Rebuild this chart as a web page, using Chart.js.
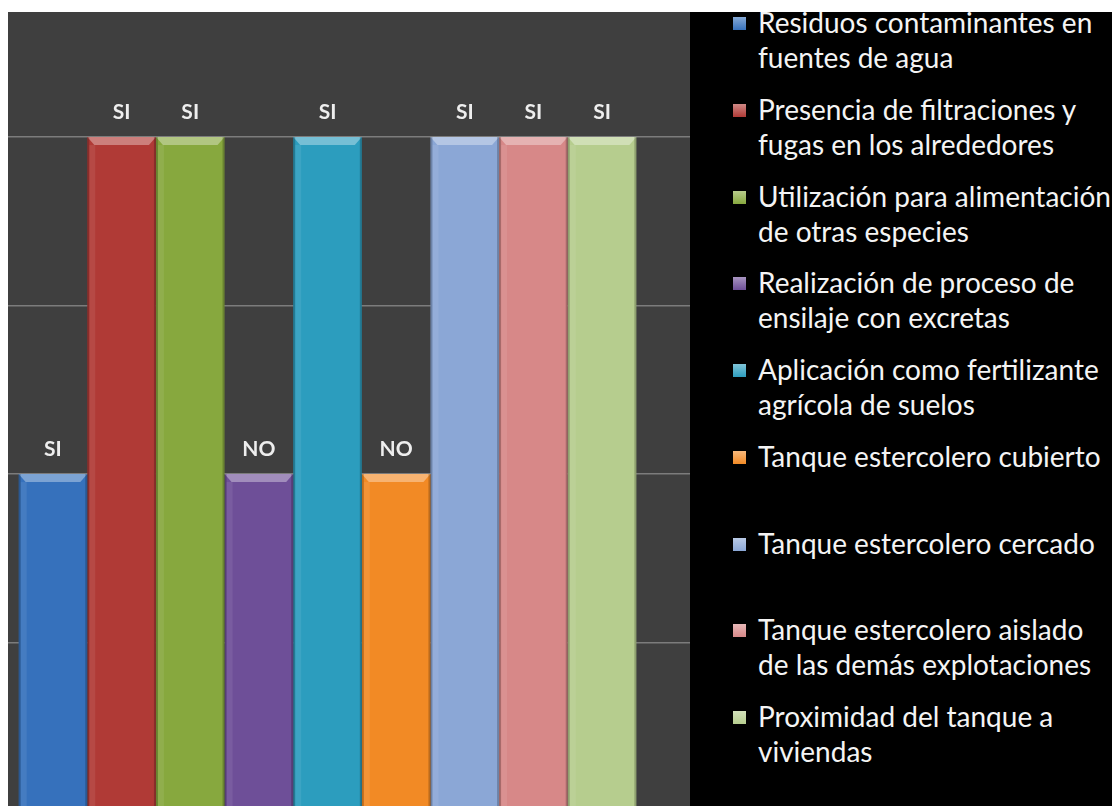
<!DOCTYPE html>
<html>
<head>
<meta charset="utf-8">
<script src="https://cdn.jsdelivr.net/npm/chart.js@4/dist/chart.umd.min.js"></script>
<style>
  html, body { margin: 0; padding: 0; background: #ffffff; width: 1112px; height: 806px; overflow: hidden; }
  #plot { position: absolute; left: 8px; top: 12px; width: 682px; height: 794px; overflow: hidden; background: #3f3f3f; }
  #wrap { position: absolute; left: -43px; top: 0; width: 725px; height: 799px; }
  #legend { position: absolute; left: 690px; top: 12px; width: 422px; height: 794px; background: #000000; overflow: hidden; }
  #legendList { position: absolute; left: 0; top: -7px; font-family: Lato, "Open Sans", sans-serif; font-size: 28px; line-height: 35px; color: #f4f4f4; }
  .item { position: relative; height: 86.75px; padding-left: 68px; white-space: nowrap; }
  .swatch { position: absolute; left: 43px; top: 12px; width: 13px; height: 13px; }
</style>
</head>
<body>
<div id="plot"><div id="wrap"><canvas id="chart"></canvas></div></div>
<div id="legend"><div id="legendList"></div></div>
<script>
  // Series names (legend) and values
  const seriesNames = [
    'Residuos contaminantes en fuentes de agua',
    'Presencia de filtraciones y fugas en los alrededores',
    'Utilización para alimentación de otras especies',
    'Realización de proceso de ensilaje con excretas',
    'Aplicación como fertilizante agrícola de suelos',
    'Tanque estercolero cubierto',
    'Tanque estercolero cercado',
    'Tanque estercolero aislado de las demás explotaciones',
    'Proximidad del tanque a viviendas'
  ];
  // legend line breaks as in the picture
  const legendLines = [
    ['Residuos contaminantes en', 'fuentes de agua'],
    ['Presencia de filtraciones y', 'fugas en los alrededores'],
    ['Utilización para alimentación', 'de otras especies'],
    ['Realización de proceso de', 'ensilaje con excretas'],
    ['Aplicación como fertilizante', 'agrícola de suelos'],
    ['Tanque estercolero cubierto'],
    ['Tanque estercolero cercado'],
    ['Tanque estercolero aislado', 'de las demás explotaciones'],
    ['Proximidad del tanque a', 'viviendas']
  ];
  const seriesValues = [1, 2, 2, 1, 2, 1, 2, 2, 2];
  const valueLabels = ['SI', 'SI', 'SI', 'NO', 'SI', 'NO', 'SI', 'SI', 'SI'];
  const seriesColors = ['#3671bc', '#b03a36', '#87a83e', '#6e4f98', '#2c9dbe', '#f28a25', '#8ba7d6', '#d78888', '#b6cd8e'];
  const gridValues = [0.5, 1, 1.5, 2];

  // Lighten a hex colour
  function lighten(hex, amt) {
    const n = parseInt(hex.slice(1), 16);
    const r = (n >> 16) & 255, g = (n >> 8) & 255, b = n & 255;
    const f = c => Math.round(c + (255 - c) * amt);
    return `rgb(${f(r)}, ${f(g)}, ${f(b)})`;
  }

  // Bevel look on top of each bar
  const bevelPlugin = {
    id: 'bevel',
    afterDatasetsDraw(chart) {
      const ctx = chart.ctx;
      chart.data.datasets.forEach((ds, i) => {
        chart.getDatasetMeta(i).data.forEach(bar => {
          const left = bar.x - bar.width / 2;
          const right = bar.x + bar.width / 2;
          const top = bar.y;
          ctx.save();
          ctx.fillStyle = lighten(ds.backgroundColor, 0.35);
          ctx.beginPath();
          ctx.moveTo(left, top);
          ctx.lineTo(right, top);
          ctx.lineTo(right - 7, top + 8);
          ctx.lineTo(left + 7, top + 8);
          ctx.closePath();
          ctx.fill();
          ctx.fillStyle = 'rgba(0,0,0,0.22)';
          ctx.fillRect(left, top, 2, bar.base - top);
          ctx.fillRect(right - 2, top, 2, bar.base - top);
          ctx.fillStyle = 'rgba(255,255,255,0.08)';
          ctx.fillRect(left + 2, top + 8, 6, bar.base - top);
          ctx.restore();
        });
      });
    }
  };

  // SI / NO labels above bars
  const labelPlugin = {
    id: 'valueLabels',
    afterDatasetsDraw(chart) {
      const ctx = chart.ctx;
      ctx.save();
      ctx.font = 'bold 21px Lato, sans-serif';
      ctx.fillStyle = '#eeeeee';
      ctx.textAlign = 'center';
      ctx.textBaseline = 'middle';
      chart.data.datasets.forEach((ds, i) => {
        chart.getDatasetMeta(i).data.forEach(bar => {
          ctx.fillText(valueLabels[i], bar.x, bar.y - 25);
        });
      });
      ctx.restore();
    }
  };

  // Build datasets
  const datasets = seriesNames.map((name, i) => ({
    label: name,
    data: [seriesValues[i]],
    backgroundColor: seriesColors[i],
    borderWidth: 0,
    barPercentage: 1,
    categoryPercentage: 0.852
  }));

  new Chart(document.getElementById('chart'), {
    type: 'bar',
    data: { labels: [''], datasets: datasets },
    options: {
      responsive: true,
      maintainAspectRatio: false,
      animation: false,
      layout: { padding: 0 },
      plugins: { legend: { display: false }, tooltip: { enabled: false } },
      scales: {
        x: { display: false },
        y: {
          min: 0,
          max: 2.371,
          afterBuildTicks: scale => { scale.ticks = gridValues.map(v => ({ value: v })); },
          ticks: { display: false },
          grid: { color: '#7c7c7c', lineWidth: 1.5, drawTicks: false },
          border: { display: false }
        }
      }
    },
    plugins: [bevelPlugin, labelPlugin]
  });

  // HTML legend
  const legendList = document.getElementById('legendList');
  legendLines.forEach((lines, i) => {
    const item = document.createElement('div');
    item.className = 'item';
    const sw = document.createElement('span');
    sw.className = 'swatch';
    sw.style.background = `linear-gradient(${lighten(seriesColors[i], 0.4)}, ${seriesColors[i]})`;
    item.appendChild(sw);
    item.innerHTML += lines.join('<br>');
    legendList.appendChild(item);
  });
</script>
</body>
</html>
